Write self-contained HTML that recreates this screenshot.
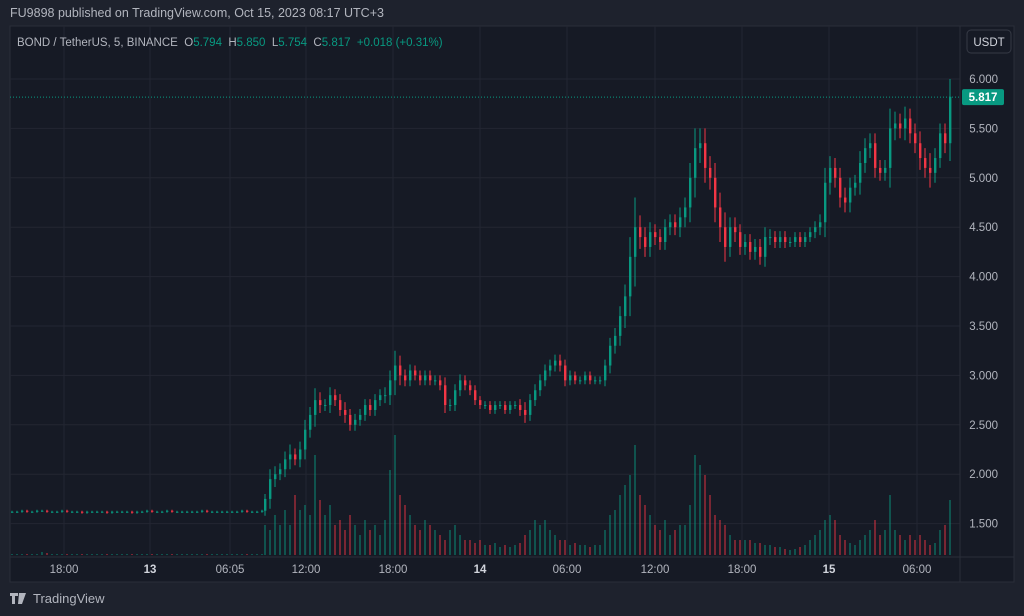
<!DOCTYPE html>
<html><head><meta charset="utf-8">
<style>
html,body{margin:0;padding:0;background:#1e222d;width:1024px;height:616px;overflow:hidden;font-family:"Liberation Sans",sans-serif;}
#hdr{position:absolute;left:10px;top:6px;color:#b2b5be;font-size:12.5px;}
#logo{position:absolute;left:10px;top:591px;color:#b2b5be;font-size:13px;display:flex;align-items:center;gap:5px;}
</style></head><body>
<div id="hdr">FU9898 published on TradingView.com, Oct 15, 2023 08:17 UTC+3</div>
<svg id="chart" width="1024" height="616" style="position:absolute;left:0;top:0">
<rect x="10" y="26" width="1004" height="556" fill="#161a25" stroke="#2a2e39"/>
<g id="grid"></g>
<g id="vol"></g>
<g id="candles"></g>
<g id="yaxis"></g>
<g id="xaxis"></g>
<text x="17" y="46" font-size="11.5" fill="#b2b5be" xml:space="preserve">BOND / TetherUS, 5, BINANCE  O<tspan fill="#089981">5.794</tspan>  H<tspan fill="#089981">5.850</tspan>  L<tspan fill="#089981">5.754</tspan>  C<tspan fill="#089981">5.817  +0.018 (+0.31%)</tspan></text>
<rect x="967" y="30" width="44" height="23" rx="4" fill="#161a25" stroke="#363a45"/>
<text x="989" y="46" font-size="11.5" fill="#d1d4dc" text-anchor="middle">USDT</text>
</svg>
<div id="logo"><svg width="18" height="12"><path d="M0 0h8v3H5v8H2V3H0z M9 0h3l-2 11H8z M12 0h4l-4 11h-2z" fill="#b2b5be"/></svg>TradingView</div>
<script>
const priceTicks=[1.5,2,2.5,3,3.5,4,4.5,5,5.5,6];
const timeLabels=["18:00","13","06:05","12:00","18:00","14","06:00","12:00","18:00","15","06:00"];
const timeX=[64,150,230,306,393,480,567,655,742,829,917];
const flatClose=[1.62,1.62,1.63,1.62,1.62,1.63,1.63,1.62,1.62,1.62,1.63,1.62,1.62,1.62,1.61,1.62,1.62,1.62,1.62,1.61,1.62,1.62,1.62,1.62,1.61,1.62,1.62,1.63,1.62,1.62,1.62,1.63,1.62,1.62,1.62,1.62,1.62,1.62,1.63,1.62,1.62,1.62,1.62,1.62,1.62,1.62,1.63,1.62,1.62,1.62,1.63];
const closes=[1.75,1.95,2.0,2.05,2.15,2.2,2.15,2.25,2.45,2.6,2.75,2.7,2.7,2.8,2.75,2.65,2.6,2.5,2.55,2.6,2.7,2.65,2.75,2.8,2.8,2.95,3.1,3.0,2.95,3.05,3.0,2.95,3.0,2.95,2.95,2.9,2.7,2.7,2.85,2.95,2.9,2.85,2.75,2.7,2.7,2.65,2.7,2.7,2.65,2.7,2.7,2.65,2.6,2.75,2.85,2.95,3.05,3.1,3.15,3.1,2.95,3.0,2.95,2.95,3.0,2.95,2.95,2.95,3.1,3.3,3.4,3.6,3.8,4.2,4.5,4.4,4.3,4.45,4.4,4.35,4.5,4.55,4.5,4.6,4.7,5.0,5.3,5.35,5.1,5.0,4.7,4.5,4.3,4.5,4.45,4.3,4.35,4.25,4.3,4.2,4.4,4.4,4.35,4.4,4.35,4.35,4.4,4.35,4.4,4.45,4.5,4.55,4.95,5.1,5.0,4.8,4.75,4.9,4.95,5.15,5.3,5.35,5.1,5.05,5.1,5.5,5.55,5.5,5.6,5.45,5.35,5.2,5.1,5.05,5.2,5.45,5.35,5.82];
const wicks=[0.05,0.1,0.08,0.06,0.08,0.1,0.06,0.08,0.1,0.08,0.12,0.08,0.06,0.08,0.06,0.06,0.08,0.06,0.06,0.06,0.06,0.06,0.06,0.06,0.08,0.1,0.15,0.1,0.06,0.06,0.05,0.05,0.05,0.05,0.05,0.05,0.08,0.06,0.06,0.06,0.05,0.05,0.05,0.04,0.04,0.04,0.04,0.04,0.04,0.04,0.04,0.06,0.08,0.06,0.06,0.06,0.06,0.06,0.06,0.06,0.06,0.05,0.04,0.04,0.04,0.04,0.04,0.04,0.06,0.08,0.08,0.1,0.12,0.2,0.3,0.12,0.1,0.1,0.08,0.08,0.08,0.08,0.08,0.1,0.1,0.15,0.2,0.15,0.15,0.12,0.15,0.15,0.15,0.1,0.1,0.08,0.08,0.08,0.08,0.08,0.1,0.08,0.06,0.06,0.06,0.05,0.05,0.05,0.05,0.05,0.06,0.08,0.15,0.12,0.1,0.1,0.1,0.1,0.08,0.12,0.1,0.1,0.1,0.08,0.08,0.2,0.12,0.1,0.12,0.1,0.1,0.12,0.1,0.15,0.1,0.1,0.1,0.18];
const flatVol=[1,1,1,1,1,1,3,2,1,1,1,1,1,1,1,1,1,1,1,1,1,1,1,1,1,1,1,1,1,1,1,1,1,1,1,1,1,1,1,1,1,1,1,1,1,1,1,1,1,1,1];
const volumes=[30,25,40,30,45,30,60,45,50,40,100,55,40,50,30,35,25,40,30,20,35,25,30,20,35,85,120,60,50,40,30,25,35,30,25,20,15,25,30,20,15,15,12,15,10,10,12,8,10,8,10,12,20,25,35,30,35,25,20,15,15,10,12,10,10,8,10,10,25,40,45,60,70,80,110,60,50,40,30,25,35,20,25,30,30,50,100,90,80,60,40,35,30,20,15,15,15,15,12,12,10,10,8,8,6,5,6,8,10,15,20,25,35,40,35,20,15,12,10,15,20,25,35,20,25,60,25,20,15,20,15,20,15,10,12,25,30,55];
const lastPrice=5.817;
const NS="http://www.w3.org/2000/svg";
const y=p=>79+(6-p)*98.8;
const xFlat=i=>12+i*5;
const xAct=i=>265+i*5;
const vy=v=>555-v;
function mk(tag,attrs,parent){const e=document.createElementNS(NS,tag);for(const k in attrs)e.setAttribute(k,attrs[k]);parent.appendChild(e);return e;}
const grid=document.getElementById('grid'),yax=document.getElementById('yaxis'),xax=document.getElementById('xaxis');
priceTicks.forEach(p=>{
 const l=mk('line',{x1:10,x2:960,y1:y(p),y2:y(p),stroke:'#232632'},grid);
 
 
 const t=mk('text',{x:998,y:y(p)+4,'font-size':11.5,fill:'#b2b5be','text-anchor':'end'},yax);
 t.textContent=p.toFixed(3);
 
 
});
timeX.forEach((xx,i)=>{
 const l=mk('line',{x1:xx,x2:xx,y1:26,y2:555,stroke:'#232632'},grid);
 
 
 const bold=/^\d\d$/.test(timeLabels[i]);
 const t=mk('text',{x:xx,y:573,'font-size':11.5,fill:bold?'#d1d4dc':'#b2b5be','text-anchor':'middle','font-weight':bold?'bold':'normal'},xax);
 t.textContent=timeLabels[i];
 
 
});
mk('line',{x1:10,x2:1014,y1:557,y2:557,stroke:'#2a2e39'},grid);
mk('line',{x1:960,x2:960,y1:26,y2:582,stroke:'#2a2e39'},grid);
const vg=document.getElementById('vol'),cg=document.getElementById('candles');
function candle(x,o,c,w,v){
 const up=c>=o,col=up?'#089981':'#f23645';
 const vb=mk('rect',{x:x-1,y:vy(v),width:2,height:v,fill:up?'rgba(8,153,129,0.45)':'rgba(242,54,69,0.45)'},vg);
 
 
 const hi=Math.max(o,c)+w,lo=Math.min(o,c)-w;
 const wk=mk('line',{x1:x,x2:x,y1:y(hi),y2:y(lo),stroke:col,'stroke-width':1},cg);
 
 
 const top=y(Math.max(o,c)),h=Math.max(1,Math.abs(y(o)-y(c)));
 const b=mk('rect',{x:x-1,y:top,width:2.4,height:h,fill:col},cg);
 
 
}
let prev=flatClose[0];
flatClose.forEach((c,i)=>{candle(xFlat(i),prev,c,0.01,flatVol[i]);prev=c;});
const n=Math.min(closes.length,wicks.length,volumes.length);
for(let i=0;i<n;i++){candle(xAct(i),prev,closes[i],wicks[i],volumes[i]);prev=closes[i];}
const svg=document.getElementById('chart');
const pl=mk('line',{x1:10,x2:960,y1:y(lastPrice),y2:y(lastPrice),stroke:'#089981','stroke-dasharray':'1 2'},svg);


const pb=mk('rect',{x:962,y:y(lastPrice)-8,width:42,height:16,rx:2,fill:'#089981'},svg);


const pt=mk('text',{x:983,y:y(lastPrice)+4,'font-size':11.5,fill:'#fff','text-anchor':'middle','font-weight':'bold'},svg);
pt.textContent=lastPrice.toFixed(3);


</script>
</body></html>
